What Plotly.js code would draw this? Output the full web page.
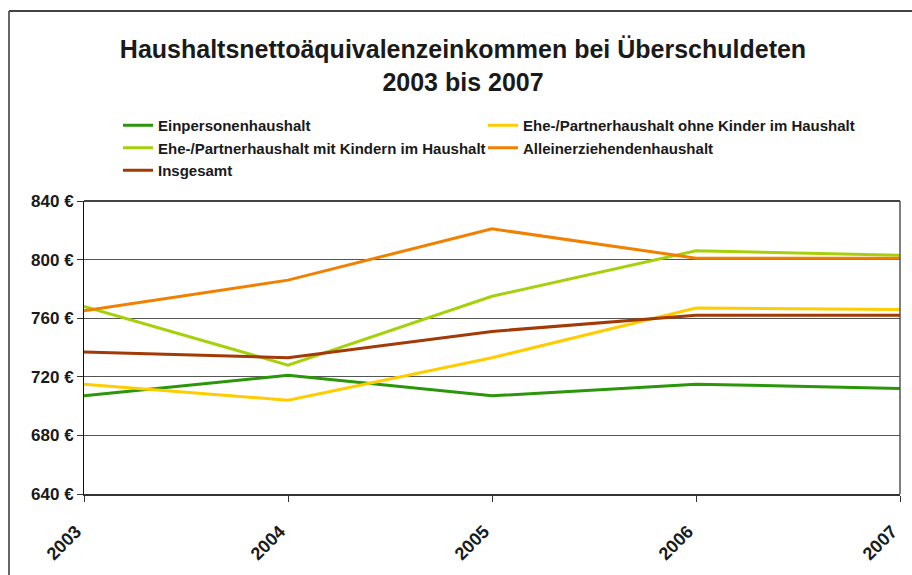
<!DOCTYPE html>
<html>
<head>
<meta charset="utf-8">
<script src="https://cdn.plot.ly/plotly-3.0.1.min.js"></script>
<style>
html,body{margin:0;padding:0;background:#fff;}
#chart{width:912px;height:575px;}
</style>
</head>
<body>
<div id="chart"></div>
<script>
var years = ['2003', '2004', '2005', '2006', '2007'];
var seriesNames = [
  'Einpersonenhaushalt',
  'Ehe-/Partnerhaushalt ohne Kinder im Haushalt',
  'Ehe-/Partnerhaushalt mit Kindern im Haushalt',
  'Alleinerziehendenhaushalt',
  'Insgesamt'
];
var einpersonen = [707, 721, 707, 715, 712];
var ohneKinder = [715, 704, 733, 767, 766];
var mitKindern = [768, 728, 775, 806, 803];
var alleinerziehend = [765, 786, 821, 801, 801];
var insgesamt = [737, 733, 751, 762, 762];
var yTicks = [640, 680, 720, 760, 800, 840];
var yTickLabels = ['640 €', '680 €', '720 €', '760 €', '800 €', '840 €'];
var colors = ['#2A960A', '#FFCC00', '#A6D10A', '#F28000', '#A33A06'];
var legendGroups = ['legend', 'legend2', 'legend', 'legend2', 'legend'];

var seriesValues = [einpersonen, ohneKinder, mitKindern, alleinerziehend, insgesamt];
var traces = seriesValues.map(function (vals, i) {
  return {
    x: years,
    y: vals,
    type: 'scatter',
    mode: 'lines',
    name: seriesNames[i],
    legend: legendGroups[i],
    line: {color: colors[i], width: 3},
    hoverinfo: 'x+y+name'
  };
});

var FONT = 'Liberation Sans, Arial, sans-serif';
var L = 84, R = 900, T = 201, B = 494;
function px2paperX(p) { return (p - L) / (R - L); }
function px2paperY(p) { return (B - p) / (B - T); }

function makeLegend(xpx) {
  return {
    orientation: 'v',
    x: px2paperX(xpx),
    y: px2paperY(109),
    xref: 'paper',
    yref: 'paper',
    xanchor: 'left',
    yanchor: 'top',
    itemwidth: 30,
    font: {family: FONT, size: 15, color: '#1a1a1a', weight: 'bold'},
    bgcolor: 'rgba(0,0,0,0)',
    tracegroupgap: 0
  };
}

var layout = {
  width: 912,
  height: 575,
  margin: {l: L, r: 912 - R, t: T, b: 575 - B, pad: 0},
  paper_bgcolor: '#ffffff',
  plot_bgcolor: '#ffffff',
  font: {family: FONT, color: '#1a1a1a'},
  title: {
    text: '<b>Haushaltsnettoäquivalenzeinkommen bei Überschuldeten<br>2003 bis 2007</b>',
    font: {family: FONT, size: 25, color: '#1a1a1a'},
    x: 463 / 912,
    xref: 'container',
    xanchor: 'center',
    y: 1 - 58 / 575,
    yref: 'container',
    yanchor: 'top'
  },
  showlegend: true,
  legend: makeLegend(118),
  legend2: makeLegend(483),
  xaxis: {
    type: 'category',
    range: [0, 4],
    autorange: false,
    showgrid: false,
    zeroline: false,
    showline: true,
    linecolor: '#333333',
    linewidth: 2,
    ticks: 'outside',
    ticklen: 6,
    tickcolor: '#333333',
    tickangle: -45,
    ticklabelstandoff: 12,
    ticklabelshift: -8,
    tickfont: {family: FONT, size: 18, color: '#1a1a1a', weight: 'bold'},
    fixedrange: true
  },
  yaxis: {
    range: [640, 840],
    autorange: false,
    tickvals: yTicks,
    ticktext: yTickLabels,
    showgrid: true,
    gridcolor: '#555555',
    gridwidth: 1,
    zeroline: false,
    showline: true,
    linecolor: '#111111',
    linewidth: 1,
    ticks: 'outside',
    ticklen: 6,
    tickcolor: '#333333',
    tickfont: {family: FONT, size: 17, color: '#1a1a1a', weight: 'bold'},
    fixedrange: true
  },
  shapes: [
    {type: 'line', xref: 'paper', yref: 'paper', x0: 1, x1: 1, y0: 0, y1: 1,
     line: {color: '#555555', width: 1.5}},
    {type: 'line', xref: 'paper', yref: 'paper', x0: 0, x1: 1, y0: 1, y1: 1,
     line: {color: '#444444', width: 2}},
    {type: 'line', xref: 'paper', yref: 'paper',
     x0: px2paperX(9), x1: px2paperX(9), y0: px2paperY(11), y1: px2paperY(580),
     line: {color: '#666666', width: 2}},
    {type: 'line', xref: 'paper', yref: 'paper',
     x0: px2paperX(9), x1: px2paperX(920), y0: px2paperY(11), y1: px2paperY(11),
     line: {color: '#444444', width: 2}}
  ]
};

Plotly.newPlot('chart', traces, layout, {displayModeBar: false});
</script>
</body>
</html>
